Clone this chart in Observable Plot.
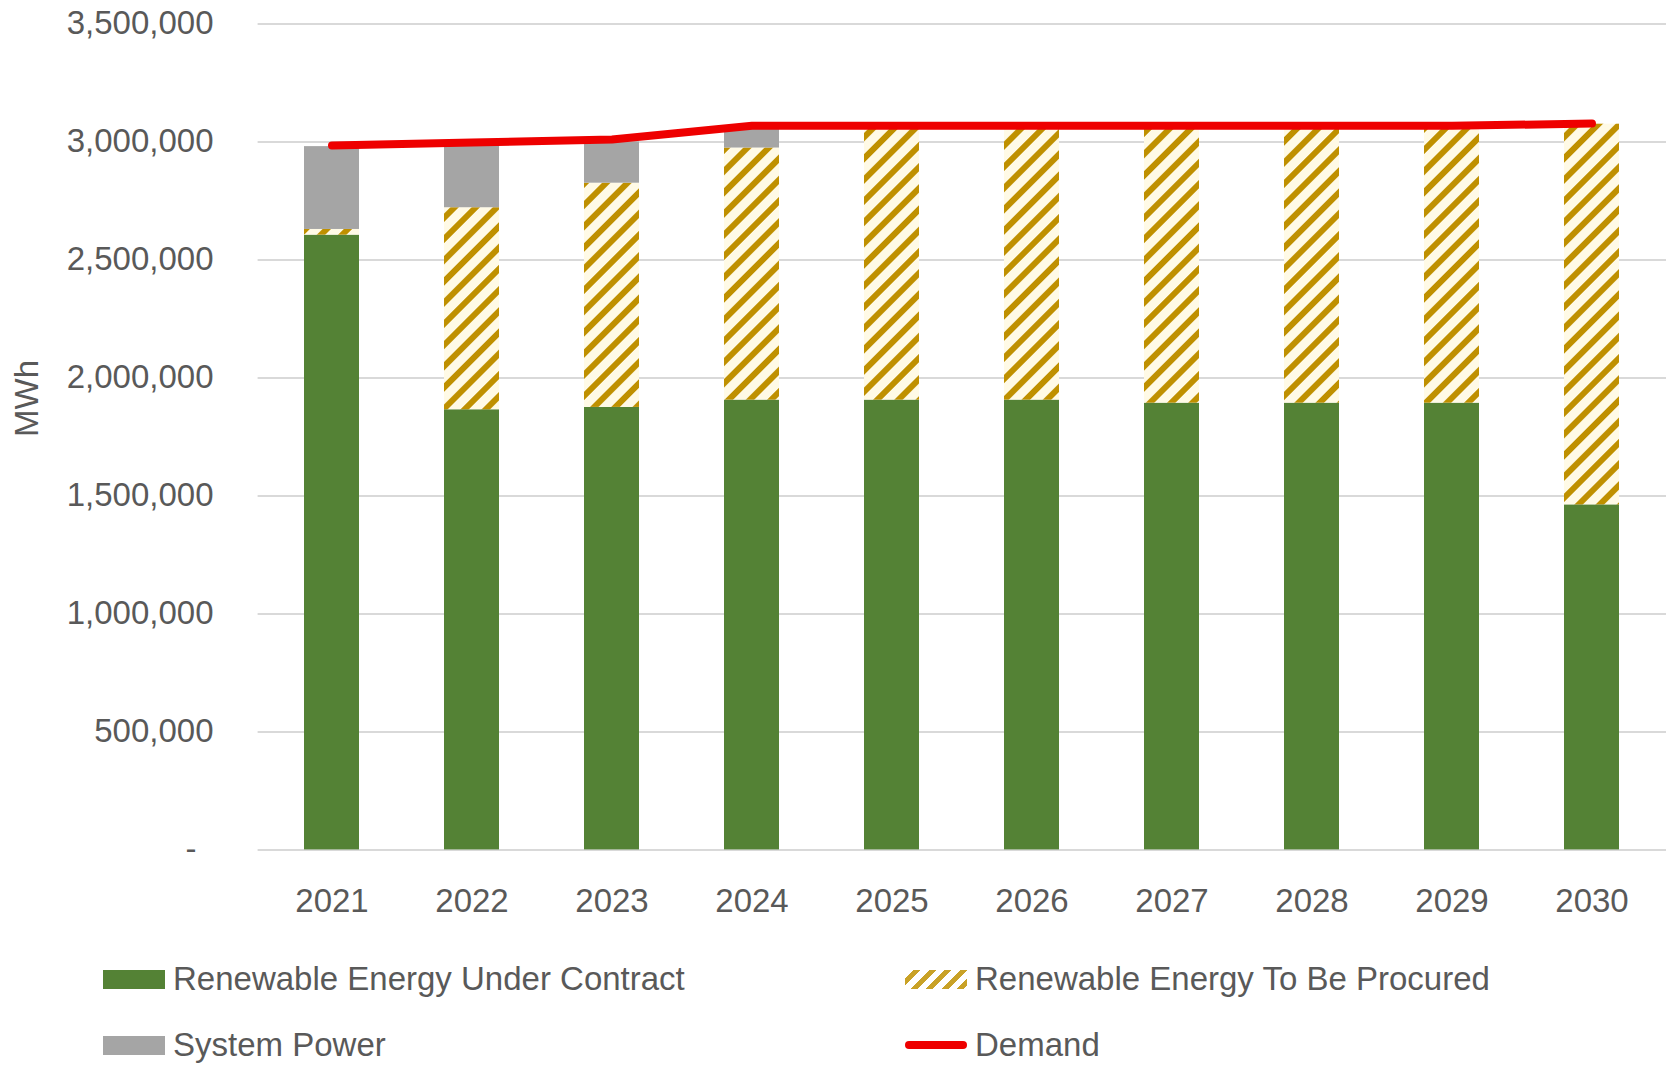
<!DOCTYPE html>
<html><head><meta charset="utf-8">
<script src="https://cdn.jsdelivr.net/npm/d3@7"></script>
<script src="https://cdn.jsdelivr.net/npm/@observablehq/plot@0.6"></script>
<style>
body{margin:0;background:#fff;}
#wrap{width:1669px;}
.lg{position:relative;height:136px;width:1669px;font-family:"Liberation Sans",Arial,sans-serif;font-size:33px;color:#595959;overflow:hidden;}
.it{position:absolute;display:flex;align-items:center;height:38px;white-space:nowrap;}
.sw{width:62px;height:19px;margin-right:8px;flex:none;}
</style>
</head><body>
<div id="wrap"><div id="chart"></div><div class="lg" id="legend"></div></div>
<script>
const years = ["2021","2022","2023","2024","2025","2026","2027","2028","2029","2030"];
const underContract = [2605000,1865000,1875000,1906000,1906000,1906000,1893000,1893000,1893000,1462000];
const toBeProcured  = [24000,856000,950000,1068000,1154000,1154000,1167000,1167000,1167000,1613000];
const systemPower   = [351000,264000,175000,86000,0,0,0,0,0,0];
const demand        = [2985000,2997000,3010000,3068000,3068000,3068000,3068000,3068000,3068000,3078000];
const seriesNames = ["Renewable Energy Under Contract","Renewable Energy To Be Procured","System Power"];
const yTicks = [0,500000,1000000,1500000,2000000,2500000,3000000,3500000];

const seriesValues = [underContract, toBeProcured, systemPower];
const rows = [];
years.forEach((yr,i)=>seriesNames.forEach((s,j)=>rows.push({year:yr, series:s, value:seriesValues[j][i]})));
const demandRows = years.map((yr,i)=>({year:yr, value:demand[i]}));

const FONT = '"Liberation Sans",Arial,sans-serif';
const TXT = "#595959";
const FS = 33;

const defs = () => {
  const d = d3.create("svg:defs");
  const p = d.append("pattern").attr("id","hatch").attr("patternUnits","userSpaceOnUse")
    .attr("width",15).attr("height",15).attr("patternTransform","rotate(45)");
  p.append("rect").attr("width",15).attr("height",15).attr("fill","#FFFAE6");
  p.append("rect").attr("width",6).attr("height",15).attr("fill","#BF9000");
  return d.node();
};

const chart = Plot.plot({
  width:1669, height:930,
  marginLeft:257.6, marginRight:3, marginTop:23.4, marginBottom:80.6,
  x:{domain:years, type:"band", paddingInner:0.605, paddingOuter:0.3025, axis:null},
  y:{domain:[0,3500000], axis:null},
  color:{domain:seriesNames, range:["#548235","url(#hatch)","#A5A5A5"]},
  style:{fontFamily:FONT, fontSize:FS+"px", color:TXT, background:"#fff"},
  marks:[
    defs,
    Plot.ruleY(yTicks, {stroke:"#D9D9D9", strokeWidth:2}),
    Plot.barY(rows, Plot.stackY({x:"year", y:"value", fill:"series", order:seriesNames})),
    Plot.line(demandRows, {x:"year", y:"value", stroke:"#EE0000", strokeWidth:8, strokeLinecap:"round", strokeLinejoin:"round"}),
    Plot.text(yTicks.filter(d=>d>0), {y:d=>d, text:d=>d3.format(",")(d), frameAnchor:"left", textAnchor:"end", lineAnchor:"middle", dx:-44.6, fill:TXT, fontSize:FS}),
    Plot.text([0], {y:d=>d, text:()=>"-", frameAnchor:"left", textAnchor:"end", lineAnchor:"middle", dx:-61.6, fill:TXT, fontSize:FS}),
    Plot.text(years, {x:d=>d, text:d=>d, frameAnchor:"bottom", lineAnchor:"middle", dy:52, fill:TXT, fontSize:FS}),
    Plot.text(["MWh"], {text:d=>d, frameAnchor:"left", lineAnchor:"middle", rotate:-90, dx:-230.6, fill:TXT, fontSize:FS})
  ]
});
document.getElementById("chart").appendChild(chart);

const legendItems = [
  {name:seriesNames[0], left:103, top:30, sw:"background:#548235"},
  {name:seriesNames[1], left:905, top:30, sw:"background:repeating-linear-gradient(135deg,#fff 0 6px,#C9A227 6px 11px)"},
  {name:seriesNames[2], left:103, top:96, sw:"background:#A5A5A5"},
  {name:"Demand", left:905, top:96, sw:"background:#EE0000;height:8px;border-radius:4px"}
];
const lg = d3.select("#legend");
legendItems.forEach(it=>{
  const d = lg.append("div").attr("class","it").style("left",it.left+"px").style("top",it.top+"px");
  d.append("div").attr("class","sw").attr("style",it.sw);
  d.append("span").text(it.name);
});
</script>
</body></html>
